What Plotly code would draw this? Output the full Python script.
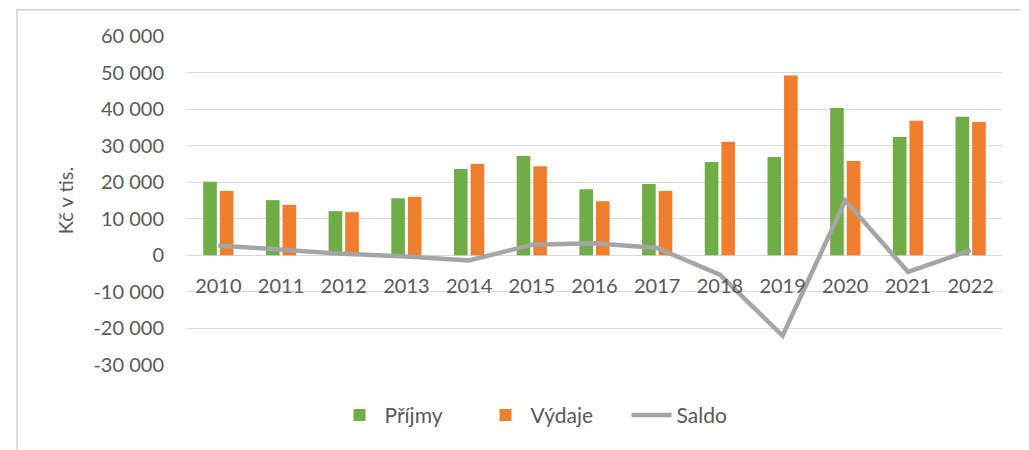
import plotly.graph_objects as go

years = ["2010", "2011", "2012", "2013", "2014", "2015", "2016",
         "2017", "2018", "2019", "2020", "2021", "2022"]
prijmy = [20100, 15100, 12100, 15600, 23600, 27200, 18100,
          19500, 25500, 26900, 40300, 32400, 37900]
vydaje = [17600, 13800, 11800, 16000, 25000, 24400, 14800,
          17600, 31100, 49200, 25800, 36800, 36500]
saldo = [2700, 1500, 400, -300, -1400, 2900, 3300,
         2000, -5300, -22000, 15000, -4500, 1400]
y_ticks = [-30000, -20000, -10000, 0, 10000, 20000, 30000, 40000, 50000, 60000]
y_ticktext = [f"{v:,}".replace(",", " ") for v in y_ticks]

FONT = "Lato"
TXT = "#595959"

fig = go.Figure()
fig.add_trace(go.Bar(x=years, y=prijmy, name="Příjmy",
                     marker=dict(color="#70AD47", line=dict(width=0))))
fig.add_trace(go.Bar(x=years, y=vydaje, name="Výdaje",
                     marker=dict(color="#F07E2C", line=dict(width=0))))
fig.add_trace(go.Scatter(x=years, y=saldo, name="Saldo", mode="lines",
                         line=dict(color="#A5A5A5", width=4.5)))

ymin, ymax = y_ticks[0], y_ticks[-1]
fig.update_layout(
    width=1029, height=450,
    paper_bgcolor="white", plot_bgcolor="white",
    margin=dict(l=179, r=35, t=28, b=93),
    barmode="group", bargap=0.47, bargroupgap=0.18,
    font=dict(family=FONT, color=TXT, size=20),
    showlegend=True,
    legend=dict(orientation="h", x=0.181, xanchor="left", y=-0.153,
                yanchor="middle", font=dict(size=21, color=TXT),
                traceorder="normal", itemwidth=40,
                entrywidth=91, entrywidthmode="pixels"),
    xaxis=dict(type="category", anchor="free", automargin=False,
               position=(0 - ymin) / (ymax - ymin),
               showline=False, showgrid=False, ticks="",
               ticklabelstandoff=17,
               tickfont=dict(size=20, color=TXT)),
    yaxis=dict(range=[ymin, ymax], tickvals=y_ticks, ticktext=y_ticktext,
               automargin=False,
               showgrid=True, gridcolor="#D9D9D9", gridwidth=1.3,
               zeroline=True, zerolinecolor="#D9D9D9", zerolinewidth=1.3,
               showline=False, ticks="", ticklabelstandoff=22,
               tickfont=dict(size=20, color=TXT),
               title=dict(text="Kč v tis.", font=dict(size=20, color=TXT),
                          standoff=14)),
    shapes=[dict(type="rect", xref="paper", yref="paper",
                 x0=-0.2086, x1=1.06, y0=-0.35, y1=1.08,
                 line=dict(color="#D0D0D0", width=1.5),
                 fillcolor="rgba(0,0,0,0)", layer="below")],
)

fig.write_html("out.html")
